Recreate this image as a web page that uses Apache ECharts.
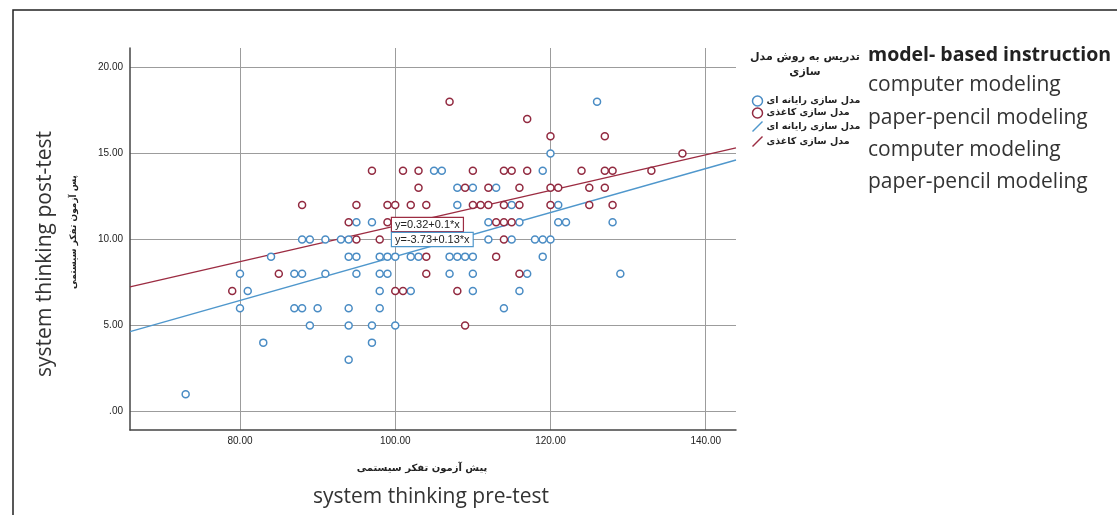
<!DOCTYPE html>
<html><head><meta charset="utf-8">
<script src="https://cdn.jsdelivr.net/npm/echarts@6.0.0/dist/echarts.min.js"></script>
<style>html,body{margin:0;padding:0;background:#fff}#c{width:1117px;height:515px}</style>
</head><body><div id="c"></div>
<script>
// ---- data ----
const xTicks = [80, 100, 120, 140];
const yTicks = [0, 5, 10, 15, 20];
const groupNames = ['مدل سازی رایانه ای', 'مدل سازی کاغذی'];
const legendTitle = 'تدریس به روش مدل\nسازی';
const englishLegend = ['model- based instruction', 'computer modeling', 'paper-pencil modeling', 'computer modeling', 'paper-pencil modeling'];
const xTitleFa = 'پیش آزمون تفکر سیستمی';
const xTitleEn = 'system thinking pre-test';
const yTitleFa = 'پس آزمون تفکر سیستمی';
const yTitleEn = 'system thinking post-test';
const equations = ['y=0.32+0.1*x', 'y=-3.73+0.13*x'];

// computer modeling (blue) points [pre-test, post-test]
const computerPoints = [
  [126,18],[120,15],
  [105,14],[106,14],[119,14],
  [108,13],[110,13],[113,13],
  [108,12],[115,12],[121,12],
  [95,11],[97,11],[112,11],[116,11],[121,11],[122,11],[128,11],
  [88,10],[89,10],[91,10],[93,10],[94,10],[112,10],[115,10],[118,10],[119,10],[120,10],
  [84,9],[94,9],[95,9],[98,9],[99,9],[100,9],[102,9],[103,9],[107,9],[108,9],[109,9],[110,9],[119,9],
  [80,8],[87,8],[88,8],[91,8],[95,8],[98,8],[99,8],[107,8],[110,8],[117,8],[129,8],
  [81,7],[98,7],[102,7],[110,7],[116,7],
  [80,6],[87,6],[88,6],[90,6],[94,6],[98,6],[114,6],
  [89,5],[94,5],[97,5],[100,5],
  [83,4],[97,4],
  [94,3],
  [73,1]
];
// paper-pencil modeling (red) points
const paperPoints = [
  [107,18],[117,17],[120,16],[127,16],[137,15],
  [97,14],[101,14],[103,14],[110,14],[114,14],[115,14],[117,14],[124,14],[127,14],[128,14],[133,14],
  [103,13],[109,13],[112,13],[116,13],[120,13],[121,13],[125,13],[127,13],
  [88,12],[95,12],[99,12],[100,12],[102,12],[104,12],[110,12],[111,12],[112,12],[114,12],[116,12],[120,12],[125,12],[128,12],
  [94,11],[99,11],[113,11],[114,11],[115,11],
  [95,10],[98,10],[114,10],
  [104,9],[113,9],
  [85,8],[104,8],[116,8],
  [79,7],[100,7],[101,7],[108,7],
  [109,5]
];
// fit lines read at the plot edges
const fitX = [65.83, 143.9];
const computerFitY = [4.64, 14.62];
const paperFitY = [7.24, 15.32];

// ---- chart ----
const BLUE = '#4a8cc4', RED = '#922a40';
const BLUE_LINE = '#4f97cc', RED_LINE = '#9c2c42';
const chart = echarts.init(document.getElementById('c'), null, {renderer: 'canvas'});
const fa = '"DejaVu Sans", sans-serif';
const en = '"Open Sans", sans-serif';

chart.setOption({
  animation: false,
  backgroundColor: '#fff',
  grid: {left: 130, top: 48, right: 381, bottom: 85, containLabel: false},
  xAxis: {
    type: 'value', min: 65.83, max: 143.9,
    axisLine: {show: true, onZero: false, lineStyle: {color: '#444', width: 1.5}},
    axisTick: {show: false, customValues: xTicks},
    axisLabel: {customValues: xTicks, formatter: v => v.toFixed(2), color: '#222', fontSize: 10, fontFamily: '"Liberation Sans", Arial', margin: 6},
    splitLine: {show: true, lineStyle: {color: '#9c9c9c', width: 1}}
  },
  yAxis: {
    type: 'value', min: -1.08, max: 21.13,
    axisLine: {show: true, onZero: false, lineStyle: {color: '#444', width: 1.5}},
    axisTick: {show: false, customValues: yTicks},
    axisLabel: {customValues: yTicks, formatter: v => v === 0 ? '.00' : v.toFixed(2), color: '#222', fontSize: 10, fontFamily: '"Liberation Sans", Arial', margin: 7},
    splitLine: {show: true, lineStyle: {color: '#9c9c9c', width: 1}}
  },
  legend: {
    orient: 'vertical', left: 745, top: 90, itemWidth: 12, itemHeight: 10, itemGap: 0,
    formatter: n => n.trim(),
    textStyle: {fontSize: 9.5, fontWeight: 'bold', fontFamily: fa, color: '#222', padding: [0, 0, 0, -2], lineHeight: 12},
    data: [
      {name: groupNames[0], icon: 'circle', itemStyle: {color: '#fff', borderColor: BLUE, borderWidth: 1.5}},
      {name: groupNames[1], icon: 'circle', itemStyle: {color: '#fff', borderColor: RED, borderWidth: 1.5}},
      {name: groupNames[0] + ' ', icon: 'path://M0,10L10,0', itemStyle: {color: 'none', borderColor: BLUE_LINE, borderWidth: 1.5}},
      {name: groupNames[1] + ' ', icon: 'path://M0,10L10,0', itemStyle: {color: 'none', borderColor: RED_LINE, borderWidth: 1.5}}
    ]
  },
  series: [
    {name: groupNames[0] + ' ', type: 'line', data: fitX.map((x, i) => [x, computerFitY[i]]), showSymbol: false, symbol: 'none',
     lineStyle: {color: BLUE_LINE, width: 1.4}, itemStyle: {color: BLUE_LINE}, z: 2},
    {name: groupNames[1] + ' ', type: 'line', data: fitX.map((x, i) => [x, paperFitY[i]]), showSymbol: false, symbol: 'none',
     lineStyle: {color: RED_LINE, width: 1.4}, itemStyle: {color: RED_LINE}, z: 2},
    {name: groupNames[0], type: 'scatter', data: computerPoints, symbol: 'circle', symbolSize: 7,
     itemStyle: {color: '#fff', borderColor: BLUE, borderWidth: 1.5, opacity: 1}, z: 3},
    {name: groupNames[1], type: 'scatter', data: paperPoints, symbol: 'circle', symbolSize: 7,
     itemStyle: {color: '#fff', borderColor: RED, borderWidth: 1.5, opacity: 1}, z: 3}
  ],
  graphic: [
    {type: 'polyline', shape: {points: [[13, 520], [13, 10], [1120, 10]]}, style: {stroke: '#222', lineWidth: 1.5, fill: null}, silent: true},
    {type: 'text', x: 45, y: 254, rotation: Math.PI / 2, style: {text: yTitleEn, font: '21px ' + en, fill: '#333', textAlign: 'center', textVerticalAlign: 'middle'}},
    {type: 'text', x: 74, y: 232, rotation: Math.PI / 2, style: {text: yTitleFa, font: 'bold 9px ' + fa, fill: '#222', textAlign: 'center', textVerticalAlign: 'middle'}},
    {type: 'text', x: 422, y: 468, style: {text: xTitleFa, font: 'bold 10px ' + fa, fill: '#222', textAlign: 'center', textVerticalAlign: 'middle'}},
    {type: 'text', x: 431, y: 497, style: {text: xTitleEn, font: '21px ' + en, fill: '#333', textAlign: 'center', textVerticalAlign: 'middle'}},
    {type: 'text', x: 805, y: 65, style: {text: legendTitle, font: 'bold 11px ' + fa, fill: '#222', textAlign: 'center', textVerticalAlign: 'middle', lineHeight: 15}},
    {type: 'text', x: 868, y: 55, style: {text: englishLegend[0], font: 'bold 19.5px ' + en, fill: '#222', textAlign: 'left', textVerticalAlign: 'middle'}},
    {type: 'text', x: 868, y: 85, style: {text: englishLegend[1], font: '21px ' + en, fill: '#333', textAlign: 'left', textVerticalAlign: 'middle'}},
    {type: 'text', x: 868, y: 118, style: {text: englishLegend[2], font: '21px ' + en, fill: '#333', textAlign: 'left', textVerticalAlign: 'middle'}},
    {type: 'text', x: 868, y: 150, style: {text: englishLegend[3], font: '21px ' + en, fill: '#333', textAlign: 'left', textVerticalAlign: 'middle'}},
    {type: 'text', x: 868, y: 182, style: {text: englishLegend[4], font: '21px ' + en, fill: '#333', textAlign: 'left', textVerticalAlign: 'middle'}},
    {type: 'text', x: 392, y: 218, z: 10, style: {text: equations[0], font: '11px "Liberation Sans", Arial', fill: '#222', backgroundColor: '#fff', borderColor: RED_LINE, borderWidth: 1.2, padding: [1, 3, 1, 3]}},
    {type: 'text', x: 392, y: 233, z: 10, style: {text: equations[1], font: '11px "Liberation Sans", Arial', fill: '#222', backgroundColor: '#fff', borderColor: BLUE_LINE, borderWidth: 1.2, padding: [1, 3, 1, 3]}}
  ]
});
</script></body></html>
